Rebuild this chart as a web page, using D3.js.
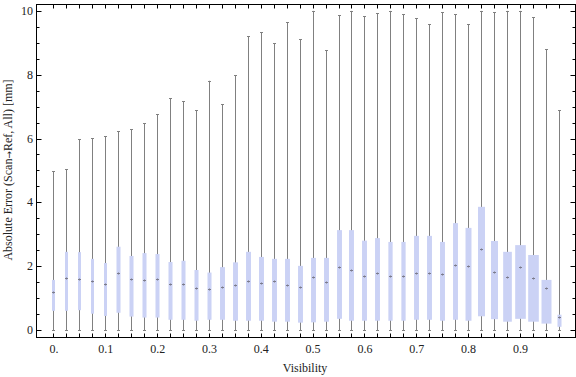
<!DOCTYPE html>
<html>
<head>
<meta charset="utf-8">
<script src="https://cdn.jsdelivr.net/npm/d3@7"></script>
<style>
  body { margin: 0; background: #fff; }
  svg { display: block; font-family: "Liberation Serif", "DejaVu Serif", serif; }
</style>
</head>
<body>
<div class="canva"></div>
<script>
// visibility bins (box centres)
const visibility = d3.range(40).map(i => +(i * 0.025).toFixed(3));

// box statistics per bin [mm]
const whiskerMin = visibility.map(() => 0);
const lowerQ = [0.60, 0.60, 0.62, 0.51, 0.44, 0.54, 0.42, 0.39, 0.39, 0.32,
                0.32, 0.29, 0.32, 0.32, 0.29, 0.29, 0.29, 0.26, 0.26, 0.23,
                0.24, 0.26, 0.35, 0.29, 0.29, 0.29, 0.29, 0.29, 0.32, 0.32,
                0.29, 0.32, 0.29, 0.43, 0.34, 0.26, 0.35, 0.26, 0.20, 0.10];
const median = [1.19, 1.64, 1.60, 1.52, 1.43, 1.78, 1.60, 1.57, 1.60, 1.43,
                1.43, 1.31, 1.28, 1.35, 1.41, 1.53, 1.47, 1.55, 1.41, 1.35,
                1.65, 1.50, 1.97, 1.87, 1.69, 1.78, 1.70, 1.68, 1.79, 1.80,
                1.75, 2.05, 2.00, 2.53, 1.83, 1.67, 1.98, 1.62, 1.31, 0.40];
const upperQ = [1.57, 2.45, 2.44, 2.23, 2.10, 2.61, 2.32, 2.41, 2.38, 2.13,
                2.17, 1.88, 1.80, 1.97, 2.12, 2.45, 2.29, 2.23, 2.23, 2.01,
                2.26, 2.26, 3.13, 3.13, 2.80, 2.88, 2.76, 2.76, 2.95, 2.95,
                2.76, 3.35, 3.20, 3.86, 2.79, 2.45, 2.66, 2.35, 1.57, 0.48];
const whiskerMax = [4.97, 5.04, 5.98, 6.01, 6.07, 6.23, 6.29, 6.48, 6.76, 7.26,
                    7.17, 6.89, 7.81, 7.08, 7.98, 9.21, 9.33, 8.99, 9.65, 9.11,
                    10.0, 8.77, 9.87, 10.0, 9.83, 9.93, 10.0, 9.90, 9.77, 9.58,
                    9.96, 9.90, 9.58, 10.0, 9.96, 10.0, 10.0, 9.80, 8.80, 6.89];
// relative box width (share of samples in the bin)
const boxWeight = [0.23, 0.23, 0.23, 0.23, 0.23, 0.31, 0.31, 0.31, 0.31, 0.31,
                   0.31, 0.31, 0.31, 0.38, 0.38, 0.38, 0.38, 0.38, 0.38, 0.38,
                   0.38, 0.38, 0.38, 0.38, 0.38, 0.38, 0.33, 0.33, 0.38, 0.38,
                   0.38, 0.38, 0.46, 0.54, 0.54, 0.67, 0.82, 0.82, 0.77, 0.31];

const xTickValues = [0, 0.1, 0.2, 0.3, 0.4, 0.5, 0.6, 0.7, 0.8, 0.9];
const xTickLabels = ['0.', '0.1', '0.2', '0.3', '0.4', '0.5', '0.6', '0.7', '0.8', '0.9'];
const yTickValues = [0, 2, 4, 6, 8, 10];

const W = 576, H = 377;
const frameL = 36.5, frameR = 575.5, frameT = 4.5, frameB = 337.5;

const svg = d3.select('.canva').append('svg')
    .attr('width', W)
    .attr('height', H);

const x = d3.scaleLinear().domain([-0.0328, 1.0073]).range([frameL, frameR]);
const y = d3.scaleLinear().domain([-0.235, 10.2]).range([frameB, frameT]);
const slot = x(0.025) - x(0);
const wScale = d3.scaleLinear().domain([0, 1]).range([0, slot]);

const boxes = visibility.map((v, i) => ({
    v, lo: whiskerMin[i], q1: lowerQ[i], med: median[i], q3: upperQ[i], hi: whiskerMax[i], w: boxWeight[i]
}));

const g = svg.append('g');

// whiskers
g.selectAll('line.whisker').data(boxes).join('line')
    .attr('class', 'whisker')
    .attr('x1', d => Math.round(x(d.v)) + 0.5)
    .attr('x2', d => Math.round(x(d.v)) + 0.5)
    .attr('y1', d => y(d.lo))
    .attr('y2', d => y(d.hi))
    .attr('stroke', '#808080')
    .attr('stroke-width', 1);

// caps
['lo', 'hi'].forEach(k => {
    g.selectAll('line.cap-' + k).data(boxes).join('line')
        .attr('class', 'cap-' + k)
        .attr('x1', d => Math.round(x(d.v)) - 1)
        .attr('x2', d => Math.round(x(d.v)) + 2)
        .attr('y1', d => Math.round(y(d[k])) + 0.5)
        .attr('y2', d => Math.round(y(d[k])) + 0.5)
        .attr('stroke', '#808080')
        .attr('stroke-width', 1);
});

// boxes
g.selectAll('rect.box').data(boxes).join('rect')
    .attr('class', 'box')
    .attr('x', d => Math.round(x(d.v)) + 0.5 - wScale(d.w) / 2)
    .attr('width', d => wScale(d.w))
    .attr('y', d => y(d.q3))
    .attr('height', d => y(d.q1) - y(d.q3))
    .attr('fill', '#cbd2f5');

// median markers
g.selectAll('path.med').data(boxes).join('path')
    .attr('class', 'med')
    .attr('d', d => {
        const cx = Math.round(x(d.v)) + 0.5, cy = Math.round(y(d.med)) + 0.5;
        return `M${cx - 1.5},${cy}H${cx + 1.5}M${cx},${cy - 1}V${cy + 1}`;
    })
    .attr('stroke', '#7c7c8c')
    .attr('stroke-width', 1)
    .attr('fill', 'none');

// frame ticks
const axisG = svg.append('g').attr('stroke', '#000').attr('stroke-width', 1);
const minorY = d3.range(0, 10.01, 0.5);
minorY.forEach(v => {
    const len = (v % 2 === 0) ? 5 : 3;
    const yy = Math.round(y(v)) + 0.5;
    axisG.append('line').attr('x1', frameL).attr('x2', frameL + len).attr('y1', yy).attr('y2', yy);
    axisG.append('line').attr('x1', frameR).attr('x2', frameR - len).attr('y1', yy).attr('y2', yy);
});
visibility.forEach(v => {
    const xx = Math.round(x(v)) + 0.5;
    axisG.append('line').attr('x1', xx).attr('x2', xx).attr('y1', frameT).attr('y2', frameT + 4);
    axisG.append('line').attr('x1', xx).attr('x2', xx).attr('y1', frameB).attr('y2', frameB - 4);
});

// frame
svg.append('rect')
    .attr('x', frameL).attr('y', frameT)
    .attr('width', frameR - frameL).attr('height', frameB - frameT)
    .attr('fill', 'none').attr('stroke', '#000').attr('stroke-width', 1);

// tick labels
svg.selectAll('text.ylab').data(yTickValues).join('text')
    .attr('class', 'ylab')
    .text(d => d)
    .attr('x', 33)
    .attr('y', d => y(d) + 4)
    .attr('text-anchor', 'end')
    .attr('font-size', 12)
    .attr('fill', '#222');

svg.selectAll('text.xlab').data(xTickValues).join('text')
    .attr('class', 'xlab')
    .text((d, i) => xTickLabels[i])
    .attr('x', d => x(d) + 0.5)
    .attr('y', 353)
    .attr('text-anchor', 'middle')
    .attr('font-size', 12)
    .attr('fill', '#222');

// axis titles
svg.append('text')
    .text('Visibility')
    .attr('x', 305)
    .attr('y', 372)
    .attr('text-anchor', 'middle')
    .attr('font-size', 12)
    .attr('fill', '#222');

const yTitle = svg.append('text')
    .attr('transform', 'translate(12,170) rotate(-90)')
    .attr('text-anchor', 'middle')
    .attr('font-size', 12)
    .attr('fill', '#222');
yTitle.append('tspan').text('Absolute Error (Scan');
yTitle.append('tspan').text('\u2192').attr('font-family', 'DejaVu Sans').attr('font-size', 9);
yTitle.append('tspan').text('Ref, All) [mm]');
</script>
</body>
</html>
